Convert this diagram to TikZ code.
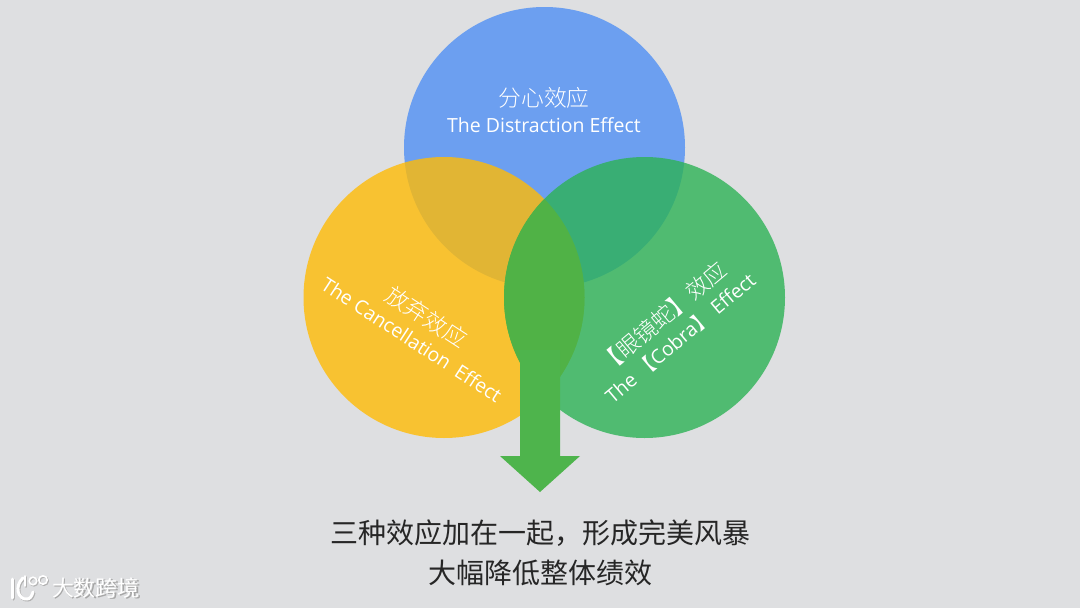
\documentclass[tikz,border=0pt]{standalone}
\usepackage{fontspec}
\setmainfont{Open Sans}
\newfontfamily\cjk{Noto Sans CJK SC}[UprightFont=* Light]
\newfontfamily\cjkreg{Noto Sans CJK SC}
\usetikzlibrary{positioning}
\definecolor{bgray}{RGB}{222,223,225}
\definecolor{cblue}{RGB}{80,144,244}
\definecolor{corange}{RGB}{255,187,6}
\definecolor{cgreen}{RGB}{45,178,86}
\definecolor{clens}{RGB}{80,178,70}
\definecolor{carrow}{RGB}{78,180,76}

\begin{document}
\begin{tikzpicture}[
    x=1pt,
    y=-1pt,
    circ/.style={
        circle,
        minimum size=281pt,
        inner sep=0pt,
        opacity=0.8
    },
    title/.style={
        text=white,
        align=center,
        font=\fontsize{19.5}{26}\selectfont,
        inner sep=0pt
    },
    bottomtext/.style={
        text=black!85,
        font=\fontsize{28}{28}\cjkreg,
        inner sep=0pt
    },
    wmark/.style={
        font=\fontsize{22}{22}\cjkreg,
        inner sep=0pt
    },
    logo/.style={
        draw=white,
        line cap=round
    },
    logoshade/.style={
        draw=black!30,
        line cap=round
    }
]

% Background
\fill[bgray] (0,0) rectangle (1080,608);
\useasboundingbox (0,0) rectangle (1080,608);

% Circles
\node[circ, fill=cblue] (distraction) at (544.5,147.5) {};
\node[circ, fill=corange] (cancel) at (444,297.5) {};
\node[circ, fill=cgreen] (cobra) at (644.5,297.5) {};

% Overlap of the two lower circles
\begin{scope}
    \clip (444,297.5) circle (140.5);
    \fill[clens] (644.5,297.5) circle (140.5);
\end{scope}

% Labels
\node[title] (lab_d) at (544,110) {{\cjk\fontsize{22.8}{26}\selectfont 分心效应}\\The Distraction Effect};
\node[title, rotate=-33] (lab_c) at (420,327) {{\cjk\fontsize{22.8}{26}\selectfont 放弃效应}\\The Cancellation\hspace{.45em}Effect};
\node[title, rotate=40] (lab_k) at (671,327) {{\cjk\fontsize{22.5}{26}\selectfont 【眼镜蛇】效应}\\The\ {\cjk 【}Cobra{\cjk 】}\ Effect};

% Arrow
\fill[carrow] (520,350) -- (560,350) -- (560,456) -- (580,456) -- (540,492) -- (500,456) -- (520,456) -- cycle;

% Bottom text
\node[bottomtext] (line_a) at (540,533) {三种效应加在一起，形成完美风暴};
\node[bottomtext, below=13pt of line_a] (line_b) {大幅降低整体绩效};

% Watermark
\node[wmark, text=black!35] (wm_s) at (97,589) {大数跨境};
\node[wmark, text=white] (wm) at (96,588) {大数跨境};
\foreach \style/\dd in {logoshade/1,logo/0} {
    \begin{scope}[shift={(\dd,\dd)}]
        \draw[\style, line width=3pt] (12,579) -- (12,598);
        \draw[\style, line width=3pt] (23,578) .. controls (14,586) and (18,600) .. (27,599) .. controls (30,599) and (32,596) .. (33,592);
        \draw[\style, line width=1.6pt] (25,576) -- (25,586);
        \draw[\style, line width=1.6pt] (33,581) circle (3.8);
        \draw[\style, line width=1.6pt] (43,580) circle (4.2);
    \end{scope}
}
\end{tikzpicture}
\end{document}
